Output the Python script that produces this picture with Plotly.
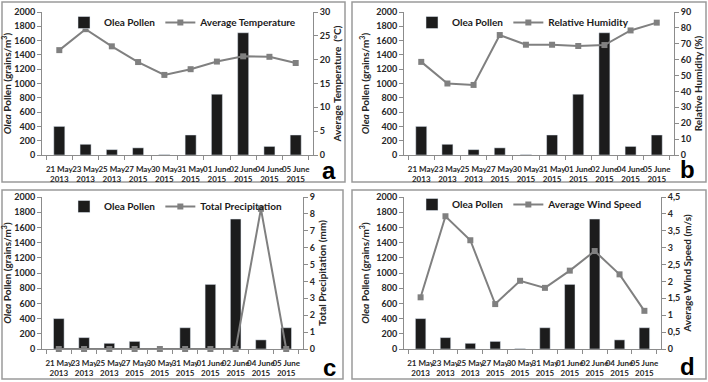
import plotly.graph_objects as go

# ---------------- data ----------------
dates = ["21 May<br>2013", "23 May<br>2013", "25 May<br>2013", "27 May<br>2015",
         "30 May<br>2015", "31 May<br>2015", "01 June<br>2015", "02 June<br>2015",
         "04 June<br>2015", "05 June<br>2015"]
pollen = [400, 150, 75, 100, 5, 280, 850, 1710, 120, 280]
temperature = [22.0, 26.4, 22.8, 19.5, 16.8, 18.0, 19.6, 20.7, 20.6, 19.3]
humidity = [58.6, 45.0, 44.1, 75.5, 69.4, 69.4, 68.6, 69.2, 78.4, 83.3]
precipitation = [0, 0, 0, 0, 0, 0, 0, 0, 8.3, 0]
wind_speed = [1.53, 3.93, 3.22, 1.33, 2.02, 1.81, 2.32, 2.90, 2.21, 1.13]

pollen_ticks = list(range(0, 2001, 200))
wind_tickvals = [0, 0.5, 1, 1.5, 2, 2.5, 3, 3.5, 4, 4.5]
wind_ticktext = ["0", "0,5", "1", "1,5", "2", "2,5", "3", "3,5", "4", "4,5"]

series = [
    ("Average Temperature", temperature, "Average Temperature  (°C)", [0, 30], 5, None, None, "a"),
    ("Relative Humidity", humidity, "Relative Humidity (%)", [0, 90], 10, None, None, "b"),
    ("Total Precipitation", precipitation, "Total Precipitation (mm)", [0, 9], 1, None, None, "c"),
    ("Average Wind Speed", wind_speed, "Average Wind Speed (m/s)", [0, 4.5], None, wind_tickvals, wind_ticktext, "d"),
]

# ---------------- layout geometry (pixels) ----------------
W, H = 708, 382
plot_boxes = [(42, 313, 12, 155), (404, 674, 12, 155), (42, 303, 197, 349), (404, 661, 197, 349)]
frames = [(2, 345, 2, 182), (352, 706, 2, 182), (2, 343, 190, 379), (352, 706, 190, 379)]
legend_pos = [(64, 8), (412, 8), (64, 192), (412, 190)]
letter_pos = [(329, 170), (687, 169), (329, 367), (687, 366)]

FONT = "Lato"
NARROW = "Liberation Sans Narrow, Lato"
BAR_C = "#1c1c1c"
LINE_C = "#808080"
AX_C = "#8c8c8c"
TXT_C = "#262626"

fig = go.Figure()
layout = dict(
    width=W, height=H, margin=dict(l=0, r=0, t=0, b=0, autoexpand=False),
    paper_bgcolor="white", plot_bgcolor="white",
    font=dict(family=FONT, size=9, color=TXT_C),
    shapes=[], annotations=[],
)

for i, (name, vals, rtitle, rrange, rdtick, rtv, rtt, letter) in enumerate(series):
    n = i + 1
    xa = "x" if n == 1 else f"x{n}"
    yl = "y" if n == 1 else f"y{2*n-1}"
    yr = f"y{2*n}"
    x0, x1, y0, y1 = plot_boxes[i]
    xdom = [x0 / W, x1 / W]
    ydom = [1 - y1 / H, 1 - y0 / H]
    lg = "legend" if n == 1 else f"legend{n}"

    fig.add_trace(go.Bar(x=dates, y=pollen, name="Olea Pollen", marker_color=BAR_C,
                         width=0.42, xaxis=xa, yaxis=yl, legend=lg))
    fig.add_trace(go.Scatter(x=dates, y=vals, name=name, mode="lines+markers",
                             line=dict(color=LINE_C, width=2),
                             marker=dict(symbol="square", size=6, color=LINE_C),
                             cliponaxis=False, xaxis=xa, yaxis=yr, legend=lg))

    layout["xaxis" if n == 1 else f"xaxis{n}"] = dict(
        domain=xdom, anchor=yl, type="category", showline=True, linecolor=AX_C, linewidth=1,
        ticks="outside", tickson="boundaries", ticklen=4, tickcolor=AX_C, tickangle=0,
        ticklabelstandoff=6,
        tickfont=dict(size=8, family=NARROW, weight="bold"), showgrid=False, automargin=False,
    )
    layout["yaxis" if n == 1 else f"yaxis{2*n-1}"] = dict(
        domain=ydom, anchor=xa, range=[0, 2000], tickvals=pollen_ticks, automargin=False,
        showline=True, linecolor=AX_C, linewidth=1, ticks="outside", ticklen=4, tickcolor=AX_C,
        tickfont=dict(size=9, family=FONT, weight="bold"), showgrid=False, zeroline=False,
        title=dict(text="<b><i>Olea</i> Pollen (grains/m<sup>3</sup>)</b>",
                   font=dict(size=10, family=FONT), standoff=4),
    )
    rdict = dict(
        overlaying=yl, anchor=xa, side="right", range=rrange, automargin=False,
        showline=True, linecolor=AX_C, linewidth=1, ticks="outside", ticklen=4, tickcolor=AX_C,
        tickfont=dict(size=9, family=FONT, weight="bold"), showgrid=False, zeroline=False,
        title=dict(text=f"<b>{rtitle}</b>", font=dict(size=10, family=FONT), standoff=4),
    )
    if rtv is not None:
        rdict.update(tickvals=rtv, ticktext=rtt)
    else:
        rdict.update(tick0=0, dtick=rdtick)
    layout[f"yaxis{2*n}"] = rdict

    lx, ly = legend_pos[i]
    layout[lg] = dict(orientation="h", x=lx / W, y=1 - ly / H, xanchor="left", yanchor="top",
                      bgcolor="rgba(0,0,0,0)",
                      font=dict(size=10, family=FONT, color="#1a1a1a", weight="bold"),
                      traceorder="normal")

    fx0, fx1, fy0, fy1 = frames[i]
    layout["shapes"].append(dict(type="rect", xref="paper", yref="paper",
                                 x0=fx0 / W, x1=fx1 / W, y0=1 - fy1 / H, y1=1 - fy0 / H,
                                 line=dict(color="#9a9a9a", width=1.5), layer="below"))
    px, py = letter_pos[i]
    layout["annotations"].append(dict(text=f"<b>{letter}</b>", xref="paper", yref="paper",
                                      x=px / W, y=1 - py / H, showarrow=False,
                                      font=dict(size=24, family="Liberation Sans", color="black"),
                                      xanchor="center", yanchor="middle"))

fig.update_layout(**layout)
fig.write_html("out.html", config={"displayModeBar": False},
               post_script="document.body.style.margin='0';document.body.style.overflow='hidden';")
